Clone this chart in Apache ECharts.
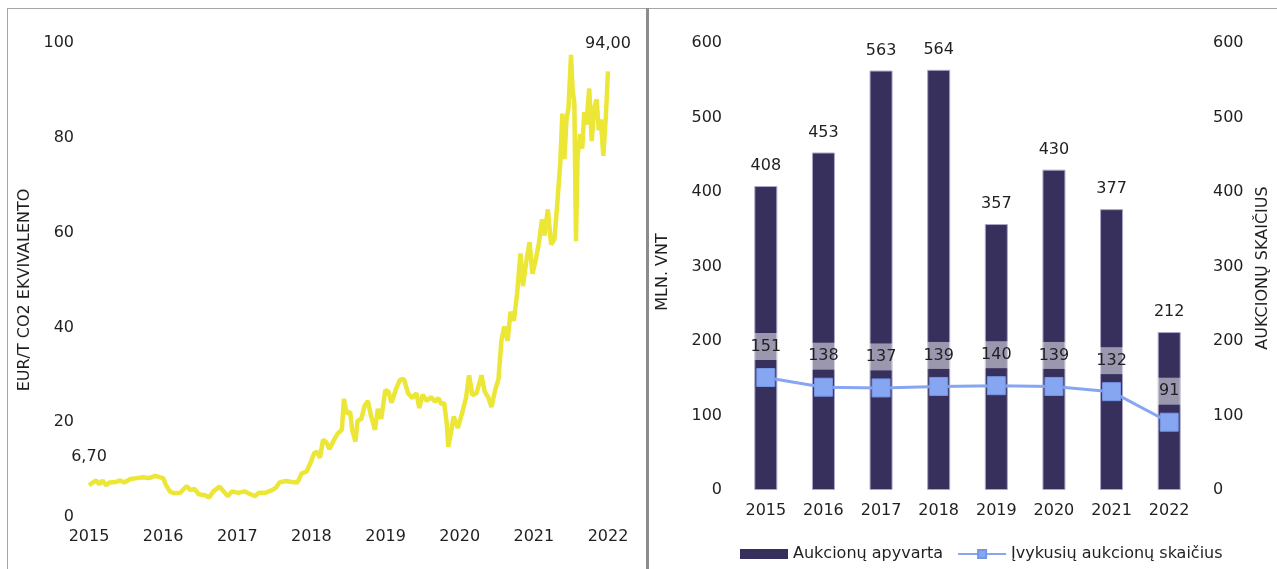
<!DOCTYPE html>
<html>
<head>
<meta charset="utf-8">
<script src="https://cdn.jsdelivr.net/npm/echarts@6/dist/echarts.min.js"></script>
<style>
html,body{margin:0;padding:0;background:#fff;}
#c{width:1277px;height:569px;}
</style>
</head>
<body>
<div id="c"></div>
<script>
// ---- Left chart: CO2 price (EUR/t), x position in label-years as drawn ----
const priceT = [
2015.000,2015.056,2015.095,2015.140,2015.184,2015.229,2015.279,2015.363,2015.419,2015.475,
2015.559,2015.643,2015.727,2015.811,2015.894,2015.950,2016.001,2016.034,2016.090,2016.146,
2016.230,2016.314,2016.369,2016.425,2016.481,2016.565,2016.621,2016.677,2016.761,2016.817,
2016.873,2016.928,2017.012,2017.096,2017.180,2017.236,2017.292,2017.376,2017.459,2017.515,
2017.571,2017.655,2017.739,2017.812,2017.868,2017.935,2017.990,2018.035,2018.074,2018.114,
2018.158,2018.203,2018.242,2018.298,2018.354,2018.410,2018.438,2018.477,2018.522,2018.549,
2018.594,2018.622,2018.672,2018.717,2018.762,2018.801,2018.857,2018.896,2018.941,2018.997,
2019.041,2019.080,2019.136,2019.192,2019.248,2019.304,2019.360,2019.416,2019.455,2019.500,
2019.556,2019.612,2019.667,2019.712,2019.751,2019.790,2019.824,2019.846,2019.880,2019.919,
2019.975,2020.031,2020.087,2020.126,2020.171,2020.226,2020.294,2020.338,2020.383,2020.428,
2020.478,2020.523,2020.562,2020.601,2020.646,2020.685,2020.730,2020.774,2020.819,2020.853,
2020.898,2020.942,2020.981,2021.020,2021.065,2021.110,2021.143,2021.188,2021.233,2021.277,
2021.317,2021.356,2021.384,2021.412,2021.440,2021.467,2021.501,2021.523,2021.546,2021.568,
2021.590,2021.624,2021.652,2021.680,2021.708,2021.747,2021.780,2021.814,2021.847,2021.875,
2021.903,2021.937,2021.970,2022.000
];
const price = [
6.7,7.3,7.7,6.9,7.7,6.7,7.3,7.4,7.7,7.3,
8.0,8.2,8.4,8.2,8.7,8.4,8.2,6.9,5.4,5.0,
5.1,6.5,5.7,5.9,4.8,4.6,4.1,5.4,6.4,5.4,
4.4,5.4,5.1,5.4,4.8,4.4,5.1,5.1,5.6,6.1,
7.3,7.6,7.4,7.3,9.2,9.6,11.5,13.4,13.8,12.5,
16.3,15.7,14.3,16.1,17.6,18.4,24.9,21.8,22.2,18.4,
15.9,20.3,20.7,23.4,24.5,21.5,18.4,22.8,20.7,26.8,
26.4,24.1,26.8,28.9,29.1,26.1,25.1,26.1,23.0,25.8,
24.5,25.3,24.3,25.1,23.8,24.1,19.9,14.8,17.6,21.2,
18.8,21.8,25.3,29.9,25.7,26.1,29.9,26.4,25.3,23.2,
26.8,29.1,37.2,40.2,37.2,43.3,41.4,47.1,55.6,48.7,
53.9,58.0,51.3,53.9,57.5,62.8,59.4,64.9,57.5,58.6,
66.3,74.7,85.1,75.5,83.9,86.2,97.5,90.0,87.4,58.2,
76.2,80.8,77.7,85.4,82.8,90.4,79.3,86.2,88.1,81.6,
83.9,76.2,84.3,94.0
];
const priceFirstLabel = '6,70';
const priceLastLabel = '94,00';
const priceYTicks = [0, 100, 20];
const priceXTicks = [2015, 2022, 1];

// ---- Right chart ----
const years = ['2015','2016','2017','2018','2019','2020','2021','2022'];
const turnover = [408,453,563,564,357,430,377,212];
const auctions = [151,138,137,139,140,139,132,91];
const barName = 'Aukcionų apyvarta';
const lineName = 'Įvykusių aukcionų skaičius';

const FONT = 'DejaVu Sans';
const FS = 16;
const TXT = '#1f1f1f';

const lineData = priceT.map((t, i) => [t, price[i]]);
const nLast = priceT.length - 1;

const chart = echarts.init(document.getElementById('c'));
const axisCommon = {
  axisLine: { show: false }, axisTick: { show: false }, splitLine: { show: false }
};
chart.setOption({
  backgroundColor: '#fff',
  textStyle: { fontFamily: FONT },
  animation: false,
  grid: [
    { left: 89, right: 1277 - 608, top: 43, bottom: 569 - 517 },
    { left: 737, right: 1277 - 1198, top: 43, bottom: 569 - 490 }
  ],
  xAxis: [
    Object.assign({ type: 'value', gridIndex: 0, min: priceXTicks[0], max: priceXTicks[1], interval: priceXTicks[2],
      axisLabel: { formatter: v => String(v), color: TXT, fontSize: FS, fontFamily: FONT, margin: 12 } }, axisCommon),
    Object.assign({ type: 'category', gridIndex: 1, data: years,
      axisLabel: { color: TXT, fontSize: FS, fontFamily: FONT, margin: 13 } }, axisCommon)
  ],
  yAxis: [
    Object.assign({ type: 'value', gridIndex: 0, min: priceYTicks[0], max: priceYTicks[1], interval: priceYTicks[2],
      axisLabel: { color: TXT, fontSize: FS, fontFamily: FONT, margin: 15 } }, axisCommon),
    Object.assign({ type: 'value', gridIndex: 1, min: 0, max: 600, interval: 100,
      axisLabel: { color: TXT, fontSize: FS, fontFamily: FONT, margin: 15 } }, axisCommon),
    Object.assign({ type: 'value', gridIndex: 1, position: 'right', min: 0, max: 600, interval: 100,
      axisLabel: { color: TXT, fontSize: FS, fontFamily: FONT, margin: 15 } }, axisCommon)
  ],
  legend: {
    data: [
      { name: barName, icon: 'rect', itemStyle: { borderWidth: 0 } },
      { name: lineName }
    ],
    left: 735, top: 541,
    itemWidth: 48, itemHeight: 10, itemGap: 14,
    textStyle: { color: TXT, fontSize: FS, fontFamily: FONT }
  },
  graphic: [
    { type: 'rect', shape: { x: 7, y: 8, width: 1270, height: 1 }, style: { fill: '#a6a6a6' } },
    { type: 'rect', shape: { x: 7, y: 8, width: 1, height: 561 }, style: { fill: '#a6a6a6' } },
    { type: 'rect', shape: { x: 646, y: 8, width: 3, height: 561 }, style: { fill: '#8c8c8c' } },
    { type: 'text', x: 25, y: 290, rotation: Math.PI / 2,
      style: { text: 'EUR/T CO2 EKVIVALENTO', font: '16px "DejaVu Sans"', fill: TXT, align: 'center', verticalAlign: 'middle' } },
    { type: 'text', x: 663, y: 272, rotation: Math.PI / 2,
      style: { text: 'MLN. VNT', font: '16px "DejaVu Sans"', fill: TXT, align: 'center', verticalAlign: 'middle' } },
    { type: 'text', x: 1263, y: 268, rotation: Math.PI / 2,
      style: { text: 'AUKCIONŲ SKAIČIUS', font: '16px "DejaVu Sans"', fill: TXT, align: 'center', verticalAlign: 'middle' } }
  ],
  series: [
    {
      type: 'line', name: 'price', xAxisIndex: 0, yAxisIndex: 0,
      data: lineData, showSymbol: false, symbol: 'none',
      lineStyle: { color: '#ECE636', width: 4.5 },
      markPoint: {
        symbol: 'circle', symbolSize: 0.01,
        label: { show: true, position: 'top', distance: 20, color: TXT, fontSize: FS, fontFamily: FONT, formatter: p => p.name },
        data: [
          { name: priceFirstLabel, coord: lineData[0] },
          { name: priceLastLabel, coord: lineData[nLast] }
        ]
      },
      z: 3
    },
    {
      type: 'bar', name: barName, xAxisIndex: 1, yAxisIndex: 1,
      data: turnover, barWidth: 23,
      itemStyle: { color: '#372F5C', borderColor: '#aaa6c4', borderWidth: 1 },
      label: { show: true, position: 'top', distance: 12, color: TXT, fontSize: FS, fontFamily: FONT }
    },
    {
      type: 'line', name: lineName, xAxisIndex: 1, yAxisIndex: 2,
      data: auctions, symbol: 'rect', symbolSize: 18,
      lineStyle: { color: '#86A6F2', width: 3 },
      itemStyle: { color: '#86A6F2', borderColor: '#7595e6', borderWidth: 1 },
      label: {
        show: true, position: 'top', distance: 8,
        backgroundColor: 'rgba(255,255,255,0.5)', width: 23, height: 27, lineHeight: 27,
        align: 'center', color: TXT, fontSize: FS, fontFamily: FONT
      },
      z: 5
    }
  ]
});
</script>
</body>
</html>
